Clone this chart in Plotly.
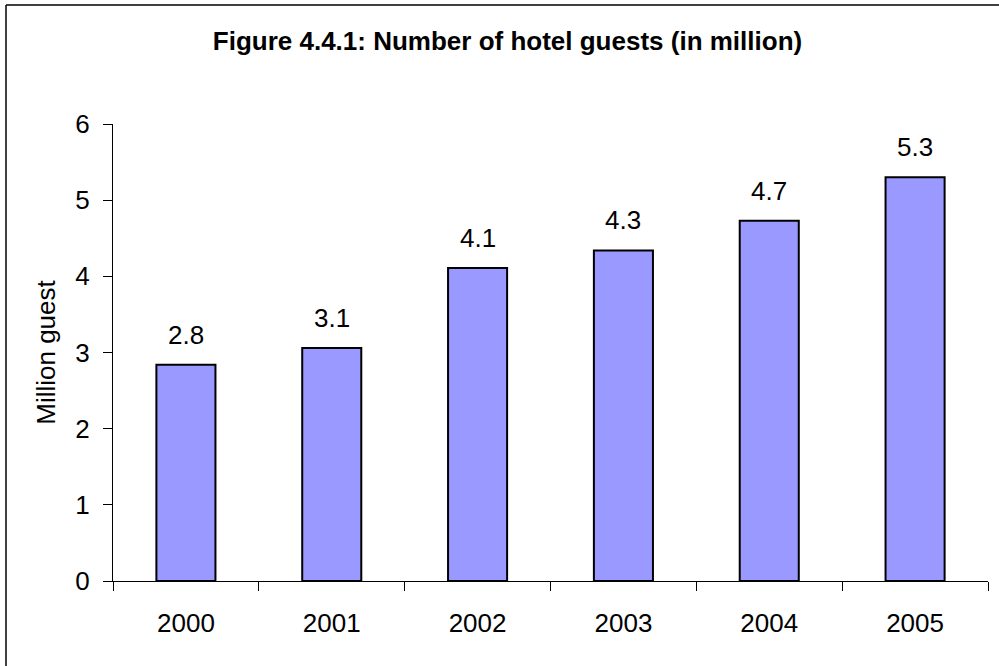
import plotly.graph_objects as go

years = ["2000", "2001", "2002", "2003", "2004", "2005"]
guests = [2.84, 3.06, 4.11, 4.34, 4.73, 5.30]
y_ticks = [0, 1, 2, 3, 4, 5, 6]

FONT = "Liberation Sans, Arial, sans-serif"

fig = go.Figure()
fig.add_trace(go.Bar(
    x=years, y=guests, width=0.405,
    marker=dict(color="#9999FF", line=dict(color="black", width=2)),
    hoverinfo="skip",
))

for i, v in enumerate(guests):
    fig.add_annotation(x=i, y=v, xref="x", yref="y", text=f"{v:.1f}",
                       showarrow=False, yanchor="middle", yshift=30,
                       font=dict(family=FONT, size=26, color="black"))

fig.update_layout(
    width=999, height=666,
    margin=dict(l=113, r=11, t=124, b=85),
    paper_bgcolor="white", plot_bgcolor="white",
    showlegend=False,
    font=dict(family=FONT, size=26, color="black"),
    title=dict(text="<b>Figure 4.4.1: Number of hotel guests (in million)</b>",
               x=507.5 / 999, xanchor="center", xref="container",
               y=1 - 41 / 666, yanchor="middle", yref="container",
               font=dict(family=FONT, size=26, color="black")),
)

fig.update_xaxes(
    type="category", automargin=False, range=[-0.5, len(years) - 0.5],
    showline=True, linecolor="black", linewidth=1,
    ticks="outside", ticklen=9, tickcolor="black", tickwidth=1,
    tickson="boundaries", showgrid=False, zeroline=False,
    ticklabelstandoff=19, tickangle=0,
    tickfont=dict(family=FONT, size=26, color="black"),
)
fig.update_yaxes(
    range=[0, 6], tickvals=y_ticks, automargin=False,
    showline=True, linecolor="black", linewidth=1,
    ticks="outside", ticklen=9, tickcolor="black", tickwidth=1,
    showgrid=False, zeroline=False,
    ticklabelstandoff=8,
    tickfont=dict(family=FONT, size=26, color="black"),
    title=dict(text="Million guest", standoff=12,
               font=dict(family=FONT, size=26, color="black")),
)

# outer chart border (left and top edges visible)
px_x = lambda p: (p - 113) / 875
px_y = lambda p: (581 - p) / 457
fig.add_shape(type="line", xref="paper", yref="paper",
              x0=px_x(6), x1=px_x(6), y0=px_y(5), y1=px_y(700),
              line=dict(color="black", width=1.5))
fig.add_shape(type="line", xref="paper", yref="paper",
              x0=px_x(6), x1=px_x(1010), y0=px_y(5), y1=px_y(5),
              line=dict(color="black", width=1.5))

fig.write_html("out.html")
